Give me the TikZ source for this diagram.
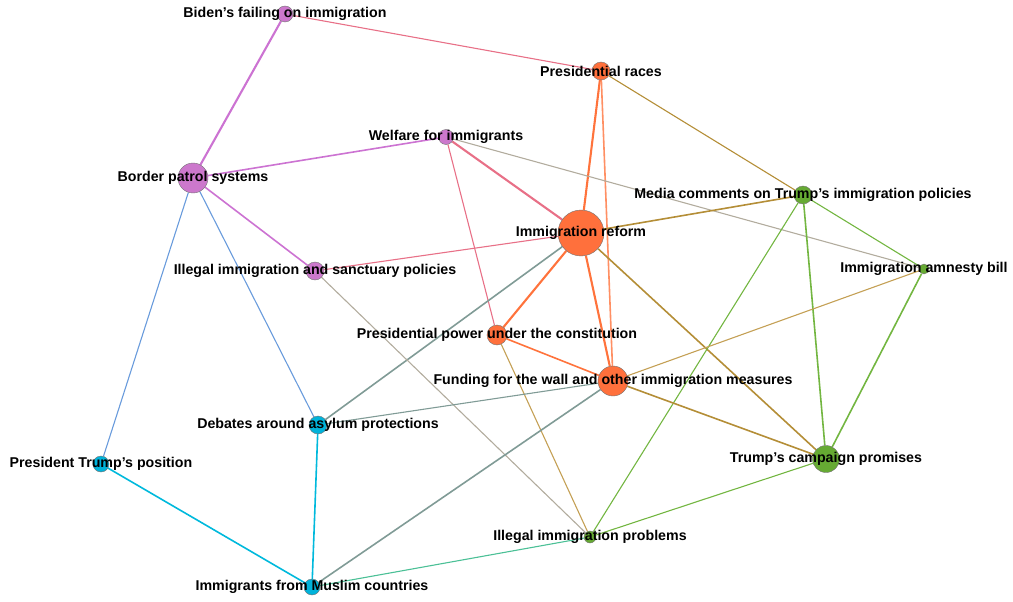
\documentclass[tikz,border=0pt]{standalone}
\usepackage{fontspec}
\setmainfont{Liberation Sans}
\usetikzlibrary{backgrounds}

\definecolor{nodepurple}{RGB}{204,120,204}
\definecolor{nodeorange}{RGB}{255,112,60}
\definecolor{nodegreen}{RGB}{102,170,51}
\definecolor{nodecyan}{RGB}{0,178,218}
\definecolor{edgepurple}{RGB}{204,115,210}
\definecolor{edgepink}{RGB}{232,112,135}
\definecolor{edgeorange}{RGB}{255,115,60}
\definecolor{edgetan}{RGB}{196,160,85}
\definecolor{edgeolive}{RGB}{180,142,55}
\definecolor{edgegray}{RGB}{178,172,158}
\definecolor{edgeblue}{RGB}{105,155,220}
\definecolor{edgeslate}{RGB}{128,155,150}
\definecolor{edgegreen}{RGB}{115,182,65}
\definecolor{edgecyan}{RGB}{0,185,220}
\definecolor{edgeteal}{RGB}{75,192,150}

\begin{document}
\begin{tikzpicture}[x=1pt,y=-1pt,
    vertex/.style={circle,draw=black!55,line width=0.4pt,inner sep=0pt},
    tag/.style={font=\bfseries\fontsize{14.2}{16}\selectfont,inner sep=0pt},
    thin link/.style={line width=1.1pt},
    mid link/.style={line width=1.6pt},
    thick link/.style={line width=2.1pt}]
    \useasboundingbox (0,0) rectangle (1013,602);

    % topics
    \node[vertex,fill=nodepurple,minimum size=16] (biden) at (285,14) {};
    \node[vertex,fill=nodeorange,minimum size=18] (races) at (601,71) {};
    \node[vertex,fill=nodepurple,minimum size=15] (welfare) at (446,137) {};
    \node[vertex,fill=nodepurple,minimum size=30] (border) at (193,178) {};
    \node[vertex,fill=nodegreen,minimum size=18] (media) at (803,195) {};
    \node[vertex,fill=nodeorange,minimum size=46] (reform) at (581,233) {};
    \node[vertex,fill=nodepurple,minimum size=18] (sanctuary) at (315,271) {};
    \node[vertex,fill=nodegreen,minimum size=10] (amnesty) at (924,269) {};
    \node[vertex,fill=nodeorange,minimum size=20] (power) at (497,335) {};
    \node[vertex,fill=nodeorange,minimum size=30] (wall) at (613,381) {};
    \node[vertex,fill=nodecyan,minimum size=18] (asylum) at (318,425) {};
    \node[vertex,fill=nodecyan,minimum size=16] (position) at (101,464) {};
    \node[vertex,fill=nodegreen,minimum size=27] (promises) at (826,459) {};
    \node[vertex,fill=nodegreen,minimum size=12] (problems) at (590,537) {};
    \node[vertex,fill=nodecyan,minimum size=16] (muslim) at (312,587) {};

    % labels
    \node[tag] at (biden) {Biden’s failing on immigration};
    \node[tag] at (races) {Presidential races};
    \node[tag] at (welfare) {Welfare for immigrants};
    \node[tag] at (border) {Border patrol systems};
    \node[tag] at (media) {Media comments on Trump’s immigration policies};
    \node[tag] at (reform) {Immigration reform};
    \node[tag] at (sanctuary) {Illegal immigration and sanctuary policies};
    \node[tag] at (amnesty) {Immigration amnesty bill};
    \node[tag] at (power) {Presidential power under the constitution};
    \node[tag] at (wall) {Funding for the wall and other immigration measures};
    \node[tag] at (asylum) {Debates around asylum protections};
    \node[tag] at (position) {President Trump’s position};
    \node[tag] at (promises) {Trump’s campaign promises};
    \node[tag] at (problems) {Illegal immigration problems};
    \node[tag] at (muslim) {Immigrants from Muslim countries};

    % links
    \begin{scope}[on background layer]
        \draw[thick link, edgepurple] (biden) -- (border);
        \draw[thin link, edgepink] (biden) -- (races);
        \draw[thick link, edgeorange] (races) -- (reform);
        \draw[mid link, edgeorange!80] (races) -- (wall);
        \draw[thin link, edgeolive] (races) -- (media);
        \draw[mid link, edgepurple] (welfare) -- (border);
        \draw[thick link, edgepink] (welfare) -- (reform);
        \draw[thin link, edgepink] (welfare) -- (power);
        \draw[thin link, edgegray] (welfare) -- (amnesty);
        \draw[mid link, edgepurple] (border) -- (sanctuary);
        \draw[thin link, edgeblue] (border) -- (position);
        \draw[thin link, edgeblue] (border) -- (asylum);
        \draw[thin link, edgepink] (reform) -- (sanctuary);
        \draw[mid link, edgeolive] (reform) -- (media);
        \draw[mid link, edgeslate] (reform) -- (asylum);
        \draw[thick link, edgeorange] (reform) -- (power);
        \draw[thick link, edgeorange] (reform) -- (wall);
        \draw[mid link, edgeolive] (reform) -- (promises);
        \draw[thin link, edgegray] (sanctuary) -- (problems);
        \draw[thin link, edgegreen] (media) -- (amnesty);
        \draw[mid link, edgegreen] (media) -- (promises);
        \draw[thin link, edgegreen] (media) -- (problems);
        \draw[mid link, edgegreen] (amnesty) -- (promises);
        \draw[thin link, edgetan] (amnesty) -- (wall);
        \draw[mid link, edgeorange] (power) -- (wall);
        \draw[thin link, edgetan] (power) -- (problems);
        \draw[thin link, edgeslate] (wall) -- (asylum);
        \draw[mid link, edgeslate] (wall) -- (muslim);
        \draw[mid link, edgeolive] (wall) -- (promises);
        \draw[thin link, edgegreen] (promises) -- (problems);
        \draw[mid link, edgecyan] (asylum) -- (muslim);
        \draw[mid link, edgecyan] (position) -- (muslim);
        \draw[thin link, edgeteal] (muslim) -- (problems);
    \end{scope}
\end{tikzpicture}
\end{document}
